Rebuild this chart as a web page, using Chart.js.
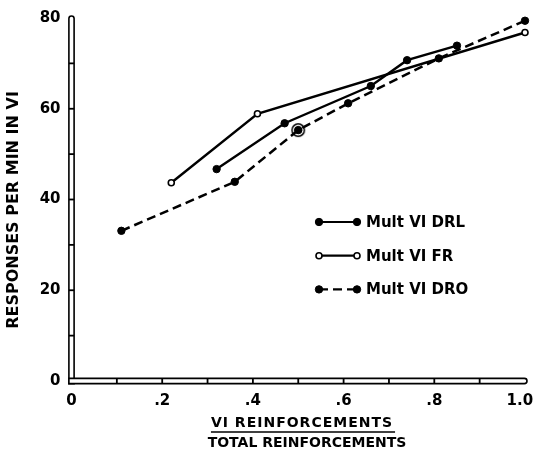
<!DOCTYPE html>
<html lang="en">
<head>
<meta charset="UTF-8">
<title>Responses per min in VI</title>
<script src="https://cdn.jsdelivr.net/npm/chart.js"></script>
<style>
  body { margin: 0; background: #fff; }
  #wrap { width: 534px; height: 453px; }
</style>
</head>
<body>
<div id="wrap"><canvas id="myChart" width="534" height="453"></canvas></div>
<script>
// VI reinforcements / total reinforcements  vs  responses per min in VI
const drlX = [0.32, 0.47, 0.66, 0.74, 0.85];
const drlY = [46.7, 56.8, 65.0, 70.7, 73.9];

const frX = [0.22, 0.41, 1.0];
const frY = [43.7, 58.9, 76.8];

const droX = [0.11, 0.36, 0.50, 0.61, 0.81, 1.0];
const droY = [33.1, 43.9, 55.3, 61.2, 71.1, 79.4];

// the circled point on the DRO curve
const circledX = [0.50];
const circledY = [55.3];

const xTickLabels = ['0', '.2', '.4', '.6', '.8', '1.0'];
const yTickLabels = ['0', '20', '40', '60', '80'];

const seriesNames = ['Mult VI DRL', 'Mult VI FR', 'Mult VI DRO'];

const FONT = "'DejaVu Sans', sans-serif";

function pts(xs, ys) {
    return xs.map((x, i) => ({ x: x, y: ys[i] }));
}

// ring with a dot inside, used as point style for the circled point
const ring = document.createElement('canvas');
ring.width = ring.height = 16;
const rc = ring.getContext('2d');
rc.fillStyle = '#fff';
rc.beginPath(); rc.arc(8, 8, 6.2, 0, Math.PI * 2); rc.fill();
rc.lineWidth = 1.5; rc.strokeStyle = '#000'; rc.stroke();
rc.fillStyle = '#000';
rc.beginPath(); rc.arc(8, 8, 3.6, 0, Math.PI * 2); rc.fill();

// hollow double-line axes with notches, like the original figure
const axisBars = {
    id: 'axisBars',
    beforeDatasetsDraw(chart) {
        const ctx = chart.ctx;
        const xs = chart.scales.x, ys = chart.scales.y;
        const x0 = xs.getPixelForValue(0), x1 = xs.getPixelForValue(1);
        const y0 = ys.getPixelForValue(0), y1 = ys.getPixelForValue(80);
        const h = 2.6;
        ctx.save();
        ctx.lineWidth = 1.6;
        ctx.strokeStyle = '#000';
        ctx.fillStyle = '#fff';
        ctx.beginPath();
        ctx.roundRect(x0 - h, y1 - 2, 2 * h, y0 - y1 + 2 + h, [h, h, 0, 0]);
        ctx.fill(); ctx.stroke();
        ctx.beginPath();
        ctx.roundRect(x0 - h, y0 - h, x1 - x0 + h + 2, 2 * h, [0, h, h, 0]);
        ctx.fill(); ctx.stroke();
        ctx.fillStyle = '#000';
        xs.ticks.forEach(t => {
            if (t.value <= 0 || t.value >= 1) return;
            const p = xs.getPixelForValue(t.value);
            ctx.fillRect(p - 0.9, y0 - h, 1.8, 2 * h);
        });
        ys.ticks.forEach(t => {
            if (t.value <= 0 || t.value >= 80) return;
            const p = ys.getPixelForValue(t.value);
            ctx.fillRect(x0 - h, p - 0.9, 2 * h, 1.8);
        });
        ctx.restore();
    }
};

// axis titles and the legend box inside the plot
const labelsAndLegend = {
    id: 'labelsAndLegend',
    afterDraw(chart) {
        const ctx = chart.ctx;
        ctx.save();
        ctx.fillStyle = '#000';
        ctx.strokeStyle = '#000';

        // y title
        ctx.font = 'bold 16px ' + FONT;
        ctx.textAlign = 'center';
        ctx.textBaseline = 'middle';
        ctx.save();
        ctx.translate(14, 210);
        ctx.rotate(-Math.PI / 2);
        ctx.fillText('RESPONSES PER MIN IN VI', 0, 0);
        ctx.restore();

        // x title as a fraction
        ctx.font = 'bold 14px ' + FONT;
        const top = 'VI REINFORCEMENTS';
        ctx.letterSpacing = '1px';
        const w = ctx.measureText(top).width;
        ctx.fillText(top, 302, 423);
        ctx.letterSpacing = '0px';
        ctx.lineWidth = 1.5;
        ctx.beginPath();
        ctx.moveTo(302 - w / 2, 432);
        ctx.lineTo(302 + w / 2 + 2, 432);
        ctx.stroke();
        ctx.fillText('TOTAL REINFORCEMENTS', 307, 443);

        // legend
        const lx1 = 319, lx2 = 357, ly = 222, gap = 33.7;
        ctx.font = 'bold 15px ' + FONT;
        ctx.textAlign = 'left';
        chart.data.datasets.slice(0, 3).forEach((ds, i) => {
            const y = ly + i * gap;
            ctx.lineWidth = 2.2;
            ctx.setLineDash(ds.borderDash || []);
            ctx.beginPath();
            ctx.moveTo(lx1, y);
            ctx.lineTo(lx2, y);
            ctx.stroke();
            ctx.setLineDash([]);
            [lx1, lx2].forEach(px => {
                ctx.beginPath();
                ctx.arc(px, y, ds.pointRadius, 0, Math.PI * 2);
                ctx.fillStyle = ds.pointBackgroundColor;
                ctx.fill();
                ctx.lineWidth = ds.pointBorderWidth;
                ctx.stroke();
            });
            ctx.fillStyle = '#000';
            ctx.fillText(ds.label, 366, y + 1);
        });
        ctx.restore();
    }
};

const ctx = document.getElementById('myChart').getContext('2d');
const myChart = new Chart(ctx, {
    type: 'scatter',
    data: {
        datasets: [
            {
                label: seriesNames[0],
                data: pts(drlX, drlY),
                showLine: true,
                borderColor: '#000',
                borderWidth: 2.4,
                pointRadius: 3.7,
                pointBackgroundColor: '#000',
                pointBorderColor: '#000',
                pointBorderWidth: 1,
                clip: false
            },
            {
                label: seriesNames[1],
                data: pts(frX, frY),
                showLine: true,
                borderColor: '#000',
                borderWidth: 2.4,
                pointRadius: 3,
                pointBackgroundColor: '#fff',
                pointBorderColor: '#000',
                pointBorderWidth: 1.6,
                clip: false
            },
            {
                label: seriesNames[2],
                data: pts(droX, droY),
                showLine: true,
                borderColor: '#000',
                borderWidth: 2.5,
                borderDash: [9, 5],
                pointRadius: 3.7,
                pointBackgroundColor: '#000',
                pointBorderColor: '#000',
                pointBorderWidth: 1,
                clip: false
            },
            {
                label: 'circled',
                data: pts(circledX, circledY),
                showLine: false,
                pointStyle: ring,
                pointRadius: 8,
                clip: false
            }
        ]
    },
    options: {
        responsive: false,
        animation: false,
        layout: { padding: { top: 18, right: 7.5, left: 0, bottom: 0 } },
        plugins: {
            legend: { display: false },
            tooltip: { enabled: false }
        },
        scales: {
            x: {
                type: 'linear',
                min: 0,
                max: 1,
                grid: { display: false, drawTicks: false },
                border: { display: false },
                ticks: {
                    stepSize: 0.1,
                    autoSkip: false,
                    maxRotation: 0,
                    padding: 11,
                    color: '#000',
                    font: { family: FONT, size: 15, weight: 'bold' },
                    callback: v => {
                        const k = Math.round(v * 10);
                        if (k % 2 !== 0) return '';
                        // last label sits against the page edge, nudge it left
                        return k === 10 ? xTickLabels[5] + '\u00a0\u00a0' : xTickLabels[k / 2];
                    }
                },
                afterFit: s => { s.height = 72; s.paddingLeft = 0; s.paddingRight = 0; }
            },
            y: {
                min: 0,
                max: 80,
                grid: { display: false, drawTicks: false },
                border: { display: false },
                ticks: {
                    stepSize: 10,
                    autoSkip: false,
                    padding: 11,
                    color: '#000',
                    font: { family: FONT, size: 15, weight: 'bold' },
                    callback: v => (v % 20 === 0 ? yTickLabels[v / 20] : '')
                },
                afterFit: s => { s.width = 71.5; s.paddingTop = 0; s.paddingBottom = 0; }
            }
        }
    },
    plugins: [axisBars, labelsAndLegend]
});
</script>
</body>
</html>
